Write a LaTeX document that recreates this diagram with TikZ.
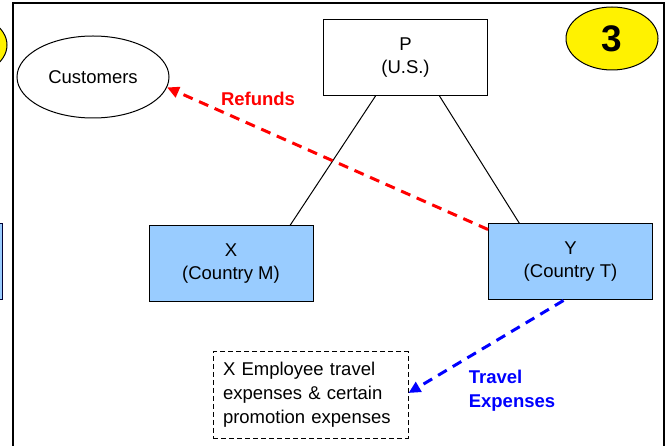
\documentclass[tikz,border=0pt]{standalone}
\usepackage{fontspec}
\setmainfont{Liberation Sans}
\usetikzlibrary{shapes.geometric,arrows.meta}
\definecolor{boxblue}{RGB}{153,204,255}
\begin{document}
\begin{tikzpicture}[x=1pt, y=-1pt, >={Triangle[length=12pt,width=11pt]},
    every node/.style={font=\fontsize{18.5}{23}\selectfont, align=center},
    entity/.style={draw, line width=1pt, minimum width=164pt, minimum height=76pt},
    flow/.style={->, line width=3pt, dash pattern=on 10pt off 7pt}]
\useasboundingbox (0,0) rectangle (667,446);
\clip (0,0) rectangle (667,446);

\draw[line width=2.5pt](13,446)--(13,3)--(664,3)--(664,446);

% pieces of the neighbouring slides
\node[ellipse, draw, fill=yellow, line width=1pt, minimum width=92pt, minimum height=63pt](num2) at (-39,45){};
\node[entity, fill=boxblue, draw=black!80!blue](prev) at (-80,262){};

\node[ellipse, draw, fill=yellow, line width=1pt, minimum width=92pt, minimum height=63pt, font=\fontsize{37}{40}\bfseries\selectfont](num) at (612,38.5){3};
\node[ellipse, draw, line width=1pt, minimum width=152pt, minimum height=82pt](cust) at (93,77){Customers};

\node[entity, fill=white](P) at (405.5,57.5){P\\(U.S.)};
\node[entity, fill=boxblue](X) at (231,264){X\\(Country M)};
\node[entity, fill=boxblue](Y) at (570.5,262){Y\\(Country T)};
\node[draw, dash pattern=on 5pt off 3pt, line width=1pt, minimum width=195pt, minimum height=86pt, text width=175pt, align=left, font=\fontsize{18.5}{24}\selectfont](exp) at (310.5,395){X Employee travel expenses \& certain promotion expenses};

\draw[line width=1pt](P.south)++(-30,0) coordinate(pl) (pl)--([xshift=59pt]X.north);
\draw[line width=1pt]([xshift=34pt]P.south)--([xshift=-51pt]Y.north);

\draw[flow, red]([yshift=-6pt]Y.north west)--(cust.-8);
\node[red, font=\fontsize{18.5}{23}\bfseries\selectfont](ref) at (258,99){Refunds};

\draw[flow, blue]([xshift=-7pt]Y.south)--([yshift=2pt]exp.east);
\node[blue, align=left, font=\fontsize{18.5}{24}\bfseries\selectfont](trav) at (512,391){Travel\\Expenses};

\end{tikzpicture}
\end{document}
